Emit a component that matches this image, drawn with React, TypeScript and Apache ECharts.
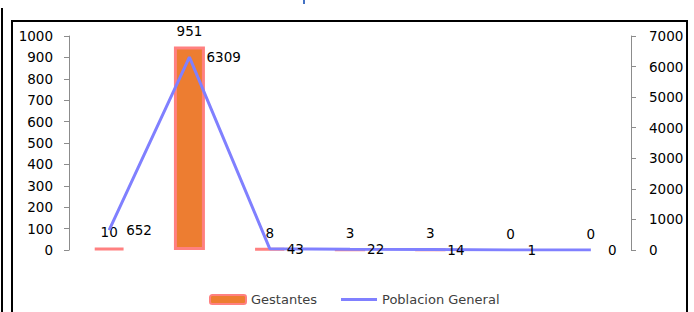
import React, { useEffect, useRef } from "react";
import * as echarts from "echarts";

const categories = ["G1", "G2", "G3", "G4", "G5", "G6", "G7"];
const gestantes = [10, 951, 8, 3, 3, 0, 0];
const poblacionGeneral = [652, 6309, 43, 22, 14, 1, 0];
const leftTicks = { min: 0, max: 1000, interval: 100 };
const rightTicks = { min: 0, max: 7000, interval: 1000 };

const FONT = "DejaVu Sans";
const FS = 13.5;

export default function App() {
  const ref = useRef<HTMLDivElement>(null);
  useEffect(() => {
    if (!ref.current) return;
    const chart = echarts.init(ref.current, null, { renderer: "svg" });
    chart.setOption({
      animation: false,
      backgroundColor: "#ffffff",
      textStyle: { fontFamily: FONT },
      grid: { left: 69, right: 63, top: 36, bottom: 62 },
      legend: {
        left: 204,
        top: 288,
        itemWidth: 36,
        itemHeight: 9,
        itemGap: 24,
        textStyle: { fontFamily: FONT, fontSize: 13, color: "#404040" },
        data: [
          { name: "Gestantes" },
          { name: "Poblacion General", icon: "path://M0,0 L36,0 L36,3 L0,3 Z", itemStyle: { color: "#8080FF" } },
        ],
      },
      xAxis: {
        type: "category",
        data: categories,
        axisLine: { show: false },
        axisTick: { show: false },
        axisLabel: { show: false },
      },
      yAxis: [
        {
          type: "value",
          ...leftTicks,
          position: "left",
          splitLine: { show: false },
          axisLine: { show: true, lineStyle: { color: "#8c8c8c", width: 1 } },
          axisTick: { show: true, length: 5, lineStyle: { color: "#8c8c8c" } },
          axisLabel: { margin: 16, fontFamily: FONT, fontSize: FS, color: "#000", formatter: (v: number) => String(v) },
        },
        {
          type: "value",
          ...rightTicks,
          position: "right",
          splitLine: { show: false },
          axisLine: { show: true, lineStyle: { color: "#8c8c8c", width: 1 } },
          axisTick: { show: true, length: 5, lineStyle: { color: "#8c8c8c" } },
          axisLabel: { margin: 18, fontFamily: FONT, fontSize: FS, color: "#000", formatter: (v: number) => String(v) },
        },
      ],
      series: [
        {
          name: "Gestantes",
          type: "bar",
          data: gestantes.map((v) =>
            v === 0 ? { value: v, itemStyle: { borderColor: "rgba(0,0,0,0)" } } : v
          ),
          barWidth: 31,
          itemStyle: { color: "#ED7D31", borderColor: "#FF8080", borderWidth: 3 },
          label: {
            show: true,
            position: "top",
            distance: 8,
            fontFamily: FONT,
            fontSize: FS,
            color: "#000",
          },
        },
        {
          name: "Poblacion General",
          type: "line",
          yAxisIndex: 1,
          data: poblacionGeneral,
          symbol: "circle",
          symbolSize: 0.1,
          showSymbol: true,
          lineStyle: { color: "#8080FF", width: 3 },
          itemStyle: { color: "#8080FF" },
          labelLayout: { hideOverlap: false },
          label: {
            show: true,
            position: "right",
            distance: 17,
            fontFamily: FONT,
            fontSize: FS,
            color: "#000",
          },
        },
      ],
      graphic: [
        {
          type: "rect",
          shape: { x: 12, y: 21, width: 675, height: 300 },
          style: { fill: "none", stroke: "#000", lineWidth: 2 },
          silent: true,
        },
        {
          type: "line",
          shape: { x1: 2, y1: 8, x2: 2, y2: 320 },
          style: { stroke: "#000", lineWidth: 2 },
          silent: true,
        },
        {
          type: "rect",
          shape: { x: 303, y: 0, width: 2, height: 4 },
          style: { fill: "#4472C4" },
          silent: true,
        },
      ],
    });
    return () => chart.dispose();
  }, []);
  return (
    <div
      ref={ref}
      style={{ position: "fixed", left: 0, top: 0, width: 694, height: 312 }}
    />
  );
}
